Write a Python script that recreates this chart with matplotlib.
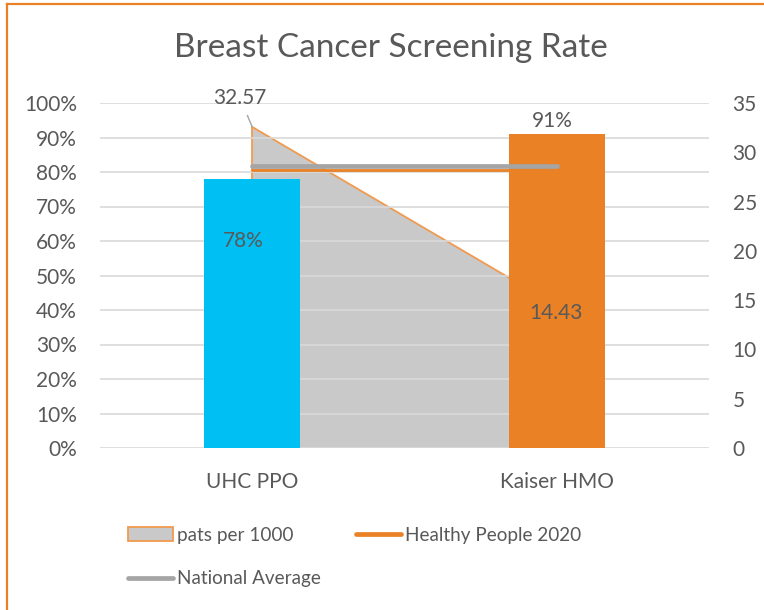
import matplotlib
matplotlib.use("Agg")
import matplotlib.pyplot as plt
from matplotlib.patches import Patch
from matplotlib.lines import Line2D
from matplotlib.ticker import PercentFormatter

plt.rcParams["font.family"] = ["Lato", "DejaVu Sans"]

categories = ["UHC PPO", "Kaiser HMO"]
screening_rate = [0.78, 0.91]
pats_per_1000 = [32.57, 14.43]
healthy_people = [0.807, 0.807]
national_avg = [0.817, 0.817]
bar_labels = ["78%", "91%"]

TEXT = "#595959"
CYAN = "#00BFF2"
ORANGE = "#EA8125"
EDGE = "#F09A50"
GREY_FILL = "#C9C9C9"
GREY_LINE = "#A5A5A5"

fig = plt.figure(figsize=(7.64, 6.10), dpi=100)
ax = fig.add_axes([100 / 764, 1 - 448 / 610, 609 / 764, 345 / 610])
ax2 = ax.twinx()
# primary axis above the secondary one so the bars hide the area
ax.set_zorder(ax2.get_zorder() + 1)
ax.patch.set_visible(False)

x = list(range(len(categories)))

# secondary axis: pats per 1000 area
ax2.fill_between(x, pats_per_1000, 0, facecolor=GREY_FILL, edgecolor="none")
ax2.plot([x[0], x[0]], [0, pats_per_1000[0]], color=EDGE, lw=1.3)
ax2.plot(x, pats_per_1000, color=EDGE, lw=1.3)
ax2.set_ylim(0, 35)
ax2.set_yticks(range(0, 36, 5))

# primary axis
ax.grid(axis="y", color="#D9D9D9", lw=1.2, zorder=1)
ax.set_axisbelow(True)
ax.plot(x, healthy_people, color=ORANGE, lw=2.0, solid_capstyle="round", zorder=2)
ax.bar(x, screening_rate, width=0.315, color=[CYAN, ORANGE], zorder=3)
ax.plot(x, national_avg, color=GREY_LINE, lw=3.4, solid_capstyle="round", zorder=4)

ax.set_xlim(-0.5, 1.5)
ax.set_ylim(0, 1)
ax.set_yticks([i / 10 for i in range(11)])
ax.yaxis.set_major_formatter(PercentFormatter(1.0, decimals=0))
ax.set_xticks(x)
ax.set_xticklabels(categories)

for a in (ax, ax2):
    for s in a.spines.values():
        s.set_visible(False)
    a.tick_params(length=0, labelsize=15, colors=TEXT)
ax.tick_params(axis="y", pad=16.5)
ax.tick_params(axis="x", pad=17)
ax2.tick_params(axis="y", pad=17)

# data labels
ax.text(x[0] - 0.03, 0.60, bar_labels[0], ha="center", va="center",
        fontsize=15, color=TEXT, zorder=5)
ax.text(x[1] - 0.013, screening_rate[1] + 0.008, bar_labels[1], ha="center",
        va="bottom", fontsize=15, color=TEXT, zorder=5)
ax.annotate(f"{pats_per_1000[0]:.2f}", xy=(x[0], pats_per_1000[0]),
            xycoords=ax2.transData, xytext=(-9, 14), textcoords="offset points",
            ha="center", va="bottom", fontsize=15, color=TEXT,
            arrowprops=dict(arrowstyle="-", color=GREY_LINE, lw=1,
                            shrinkA=4, shrinkB=0))
ax.annotate(f"{pats_per_1000[1]:.2f}", xy=(x[1], pats_per_1000[1]),
            xycoords=ax2.transData, xytext=(-0.5, -5), textcoords="offset points",
            ha="center", va="center", fontsize=15, color=TEXT, zorder=5)

fig.text(391 / 764, 1 - 48 / 610, "Breast Cancer Screening Rate", ha="center",
         va="center", fontsize=24, color=TEXT)

handles = [
    Patch(facecolor=GREY_FILL, edgecolor=EDGE, lw=1.3),
    Line2D([], [], color=GREY_LINE, lw=3.4, solid_capstyle="round"),
    Line2D([], [], color=ORANGE, lw=3.4, solid_capstyle="round"),
]
labels = ["pats per 1000", "National Average", "Healthy People 2020"]
leg = fig.legend(handles, labels, ncol=2, loc="upper left",
                 bbox_to_anchor=(111 / 764, 1 - 510 / 610), frameon=False,
                 fontsize=13.6, handlelength=2.4, handleheight=0.75,
                 handletextpad=0.2, labelspacing=1.4, columnspacing=1.85,
                 labelcolor=TEXT)

# orange chart border (top and left edges only are visible)
fig.add_artist(Line2D([6.5 / 764, 6.5 / 764], [0, 1 - 4 / 610],
                      transform=fig.transFigure, color=ORANGE, lw=1.6))
fig.add_artist(Line2D([6.5 / 764, 1], [1 - 4 / 610, 1 - 4 / 610],
                      transform=fig.transFigure, color=ORANGE, lw=1.6))

fig.savefig("out.png", dpi=100)
